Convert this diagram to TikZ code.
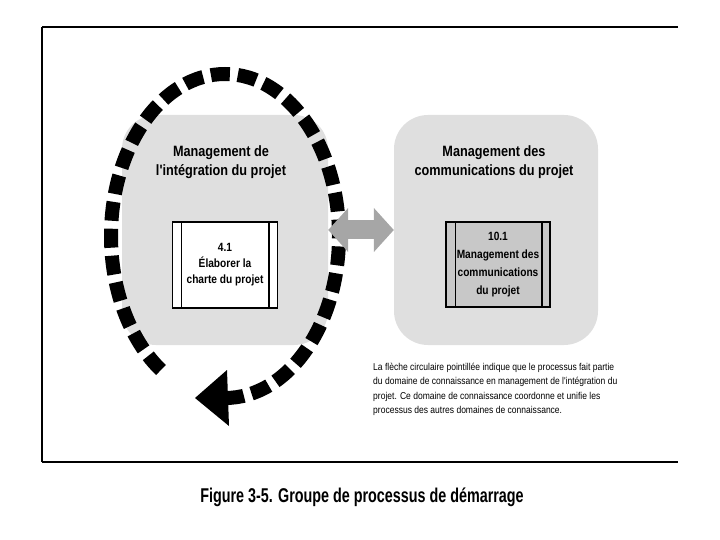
\documentclass[tikz,border=0pt]{standalone}
\usepackage{fontspec}
\setmainfont{Liberation Sans}
\newfontfamily\titleFont{Liberation Sans}[FakeStretch=0.85]
\newfontfamily\procFont{Liberation Sans}[FakeStretch=0.85]
\newfontfamily\noteFont{Liberation Sans}[FakeStretch=0.855]
\newfontfamily\captionFont{Liberation Sans}[FakeStretch=0.72]
\usepackage{xcolor}
\usetikzlibrary{arrows.meta}
\definecolor{areaBgColor}{HTML}{DFDFDF}
\definecolor{procBgColorA}{HTML}{FFFFFF}
\definecolor{procBgColorB}{HTML}{C8C8C8}
\definecolor{linkColor}{HTML}{A6A6A6}
\definecolor{cycleColor}{HTML}{000000}
\def\textA{Management de\\l'intégration du projet}
\def\textB{Management des\\communications du projet}
\def\textC{4.1\\Élaborer la\\charte du projet}
\def\textD{10.1\\Management des\\communications\\du projet}
\def\textE{La flèche circulaire pointillée indique que le processus fait partie\\du domaine de connaissance en management de l'intégration du\\projet. Ce domaine de connaissance coordonne et unifie les\\processus des autres domaines de connaissance.}
\def\textF{Figure 3-5. Groupe de processus de démarrage}

\tikzset{
areaBox/.style={fill=areaBgColor, rounded corners=34bp, minimum height=230bp, inner sep=0pt},
titleText/.style={align=center, font=\titleFont\bfseries\fontsize{15}{19.5}\selectfont},
procBox/.style={draw, line width=1.4bp, minimum width=105bp, minimum height=86bp, inner sep=0pt, align=center},
cycleLine/.style={color=cycleColor, line width=14bp, dash pattern=on 19bp off 8bp},
linkArrow/.style={color=linkColor, line width=19bp, {Triangle[length=20bp, width=43bp]}-{Triangle[length=20bp, width=43bp]}}
}

\begin{document}
\begin{tikzpicture}[x=1bp,y=-1bp]
\useasboundingbox (0,0) rectangle (720,540);

% frame
\begin{scope}
\draw[line width=2bp] (678,27) -- (42,27);
\draw[line width=1.5bp] (42,27) -- (42,462);
\draw[line width=2.5bp] (42,462) -- (678,462);
\end{scope}

% area layer
\begin{scope}
\node[areaBox, minimum width=206bp] (integ) at (225,230) {};
\node[areaBox, minimum width=204bp] (comm) at (496,230) {};
\node[titleText] (integTitle) at (221,162) {\textA};
\node[titleText] (commTitle) at (494,162) {\textB};
\end{scope}

% process layer
\begin{scope}
\node[procBox, fill=procBgColorA, font=\procFont\bfseries\fontsize{12}{16}\selectfont] (procA) at (225,265) {\textC};
\node[procBox, fill=procBgColorB, minimum width=104bp, minimum height=85bp, font=\procFont\bfseries\fontsize{12}{18}\selectfont] (procB) at (498,264.5) {\textD};
\draw[line width=1.2bp] ([xshift=10bp]procA.north west) -- ([xshift=10bp]procA.south west);
\draw[line width=2bp] ([xshift=-9bp]procA.north east) -- ([xshift=-9bp]procA.south east);
\draw[line width=1.2bp] ([xshift=10bp]procB.north west) -- ([xshift=10bp]procB.south west);
\draw[line width=2bp] ([xshift=-9bp]procB.north east) -- ([xshift=-9bp]procB.south east);
\end{scope}

% cycle layer
\begin{scope}
\coordinate (cycleCenter) at (225,236);
\coordinate (cycleEnd) at ([shift={(90:114 and 162)}]cycleCenter);
\draw[cycleLine] (cycleEnd) arc[start angle=450, end angle=121.5, x radius=114, y radius=162];
\fill[cycleColor] ([shift={(2,-28)}]cycleEnd) -- ([shift={(4,28)}]cycleEnd) -- ([shift={(-30,0)}]cycleEnd) -- cycle;
\end{scope}

% link layer
\begin{scope}
\draw[linkArrow] (integ) -- (comm);
\end{scope}

% text layer
\begin{scope}
\node[anchor=north west, align=left, inner sep=0pt, font=\noteFont\fontsize{10}{14.5}\selectfont] (note) at (373,363) {\textE};
\node[font=\captionFont\bfseries\fontsize{20}{24}\selectfont] (caption) at (362,497) {\textF};
\end{scope}

\end{tikzpicture}
\end{document}
